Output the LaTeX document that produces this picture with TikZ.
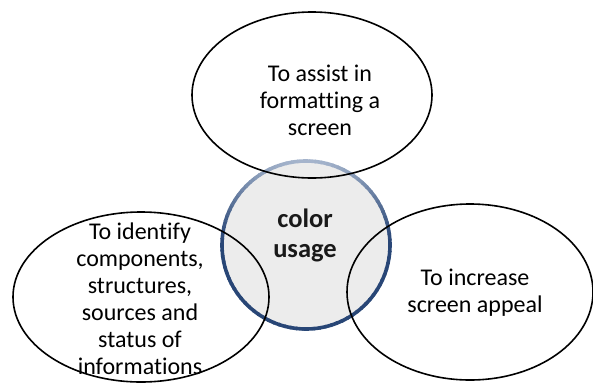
\documentclass[tikz,border=0pt]{standalone}
\usepackage{fontspec}
\setmainfont{Carlito}[Ligatures={NoCommon}]
\definecolor{ringdark}{RGB}{40,70,118}
\definecolor{ringlight}{RGB}{165,180,204}
\definecolor{hubfill}{RGB}{236,236,236}
\tikzset{
  goaltext/.style={align=center, font=\fontsize{24}{27}\selectfont, text=black},
  hubtext/.style={align=center, font=\fontsize{26.5}{30}\selectfont\bfseries, text=black!90}
}
\begin{document}
\begin{tikzpicture}[x=1pt,y=-1pt]
  \useasboundingbox (0,0) rectangle (593,383);
  \clip (0,0) rectangle (593,383);

  % central hub: filled disc with a shaded ring
  \coordinate (hubc) at (306,245);
  \fill[hubfill] (hubc) circle (84);
  \foreach \a in {0,4,...,356}{
    \pgfmathsetmacro{\t}{max(0,-sin(\a+2))^1.3*100}
    \draw[line width=3.6pt, color=ringlight!\t!ringdark]
      (hubc) ++(\a:84) arc[start angle=\a, end angle=\a+5, radius=84];
  }
  \node[hubtext] (hub) at (305,235) {color\\usage};

  % surrounding goals, outlines only
  \draw[black, line width=1.6pt] (312,95) ellipse [x radius=120, y radius=83];
  \draw[black, line width=1.6pt] (141,297) ellipse [x radius=128, y radius=85];
  \draw[black, line width=1.6pt] (470,292) ellipse [x radius=123, y radius=88];

  \node[goaltext] (top) at (320,100) {To assist in\\formatting a\\screen};
  \node[goaltext] (left) at (140,299) {To identify\\components,\\structures,\\sources and\\status of\\informations};
  \node[goaltext] (right) at (475,293) {To increase\\screen appeal};
\end{tikzpicture}
\end{document}
